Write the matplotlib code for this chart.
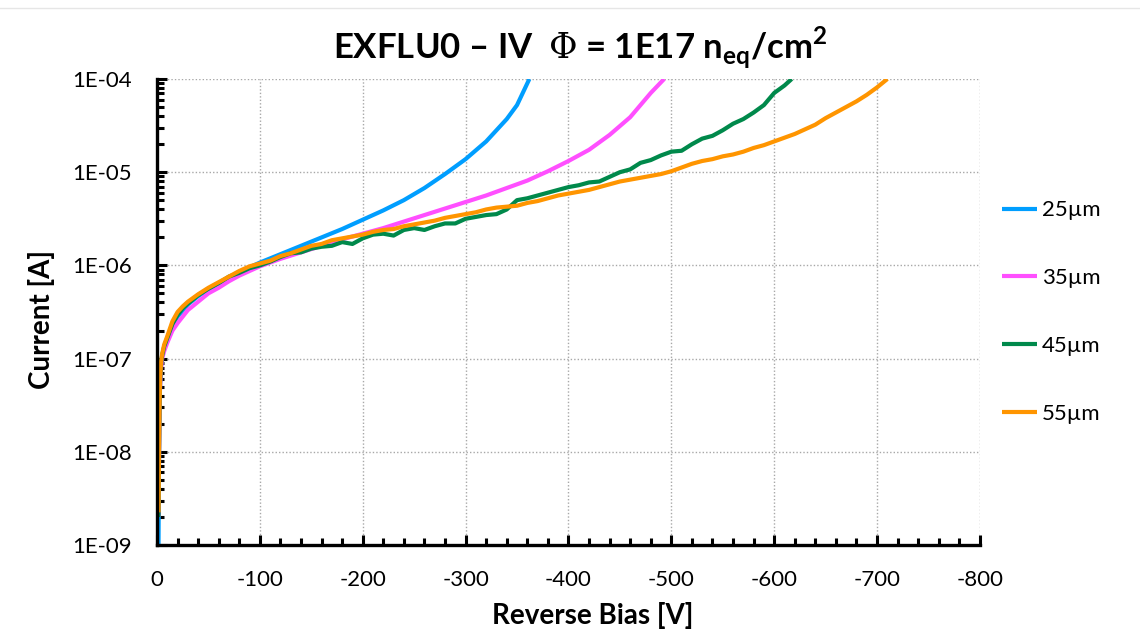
import numpy as np
import matplotlib
matplotlib.use('Agg')
import matplotlib.pyplot as plt
from matplotlib.ticker import FixedLocator, FuncFormatter, LogLocator, NullFormatter
from matplotlib.lines import Line2D

plt.rcParams['font.family'] = ['Lato', 'DejaVu Sans']
plt.rcParams['axes.unicode_minus'] = False
plt.rcParams['mathtext.fontset'] = 'custom'
plt.rcParams['mathtext.rm'] = 'DejaVu Serif'
plt.rcParams['mathtext.bf'] = 'Lato:bold'

# reverse bias [V] and log10(current [A]) for each sensor thickness
v_25 = [-1.5, -2, -2.5, -3, -4, -5, -7, -10, -15, -20, -30, -40, -50, -60, -70, -80, -90,
        -100, -120, -140, -160, -180, -200, -220, -240, -260, -280, -300, -320, -340,
        -350, -362]
logi_25 = [-9.0, -8.0, -7.5, -7.27, -7.07, -6.97, -6.88, -6.79, -6.65, -6.55, -6.42,
           -6.33, -6.26, -6.19, -6.13, -6.07, -6.02, -5.97, -5.88, -5.79, -5.70, -5.61,
           -5.51, -5.41, -5.30, -5.17, -5.02, -4.86, -4.67, -4.43, -4.28, -4.0]

v_35 = [-1.5, -2, -2.5, -3, -4, -5, -7, -10, -15, -20, -30, -40, -50, -60, -70, -80, -90,
        -100, -120, -140, -160, -180, -200, -220, -240, -260, -280, -300, -320, -340,
        -360, -380, -400, -420, -440, -460, -480, -493]
logi_35 = [-8.7, -8.05, -7.55, -7.3, -7.1, -7.0, -6.92, -6.83, -6.70, -6.62, -6.48,
           -6.39, -6.30, -6.24, -6.17, -6.11, -6.06, -6.01, -5.93, -5.86, -5.79, -5.72,
           -5.66, -5.60, -5.53, -5.46, -5.39, -5.32, -5.25, -5.17, -5.09, -4.99, -4.88,
           -4.76, -4.60, -4.41, -4.15, -4.0]

v_45 = [-1.5, -2, -2.5, -3, -4, -5, -7, -10, -15, -20, -25, -30, -40, -50, -60, -70, -80,
        -90, -100, -110, -120, -130, -140, -150, -160, -170, -180, -190, -200, -210,
        -220, -230, -240, -250, -260, -270, -280, -290, -300, -310, -320, -330, -340,
        -350, -360, -370, -380, -390, -400, -410, -420, -430, -440, -450, -460, -470,
        -480, -490, -500, -510, -520, -530, -540, -550, -560, -570, -580, -590, -600,
        -610, -617]
logi_45 = [-8.7, -8.0, -7.5, -7.25, -7.05, -6.97, -6.87, -6.78, -6.63, -6.53, -6.46,
           -6.41, -6.32, -6.25, -6.19, -6.12, -6.08, -6.03, -6.00, -5.96, -5.91, -5.87,
           -5.86, -5.82, -5.80, -5.79, -5.75, -5.77, -5.71, -5.67, -5.66, -5.68, -5.62,
           -5.60, -5.62, -5.58, -5.55, -5.55, -5.50, -5.48, -5.46, -5.45, -5.40, -5.30,
           -5.28, -5.25, -5.22, -5.19, -5.16, -5.14, -5.11, -5.10, -5.05, -5.00, -4.97,
           -4.90, -4.87, -4.82, -4.78, -4.77, -4.70, -4.64, -4.61, -4.55, -4.48, -4.43,
           -4.36, -4.28, -4.15, -4.07, -4.0]

v_55 = [-1.5, -2, -2.5, -3, -4, -5, -7, -10, -15, -20, -25, -30, -40, -50, -60, -70, -80,
        -90, -100, -110, -120, -130, -140, -150, -160, -170, -180, -190, -200, -210,
        -220, -230, -240, -250, -260, -270, -280, -290, -300, -310, -320, -330, -340,
        -350, -360, -370, -380, -390, -400, -410, -420, -430, -440, -450, -460, -470,
        -480, -490, -500, -510, -520, -530, -540, -550, -560, -570, -580, -590, -600,
        -610, -620, -630, -640, -650, -660, -670, -680, -690, -700, -710]
logi_55 = [-8.65, -8.0, -7.5, -7.22, -7.03, -6.95, -6.85, -6.76, -6.6, -6.5, -6.44,
           -6.39, -6.31, -6.24, -6.18, -6.12, -6.06, -6.01, -5.98, -5.95, -5.90, -5.87,
           -5.83, -5.79, -5.77, -5.73, -5.71, -5.69, -5.67, -5.64, -5.62, -5.61, -5.58,
           -5.56, -5.54, -5.52, -5.49, -5.47, -5.45, -5.43, -5.40, -5.38, -5.37, -5.36,
           -5.33, -5.31, -5.28, -5.25, -5.23, -5.21, -5.19, -5.16, -5.13, -5.10, -5.08,
           -5.06, -5.04, -5.02, -4.99, -4.95, -4.91, -4.88, -4.86, -4.83, -4.81, -4.78,
           -4.74, -4.71, -4.67, -4.63, -4.59, -4.54, -4.49, -4.42, -4.36, -4.30, -4.24,
           -4.17, -4.09, -4.0]

labels = ['25µm', '35µm', '45µm', '55µm']
colors = ['#009EFF', '#FF4FFF', '#00894B', '#FF9500']
series = [(v_25, logi_25), (v_35, logi_35), (v_45, logi_45), (v_55, logi_55)]

fig = plt.figure(figsize=(11.4, 6.39), dpi=100)
ax = fig.add_axes([0.1377, 0.1471, 0.7219, 0.7293])

for (v, logi), lab, c in zip(series, labels, colors):
    ax.plot(v, 10.0 ** np.array(logi), color=c, lw=3, label=lab,
            solid_capstyle='butt', solid_joinstyle='round')

ax.set_yscale('log')
ax.set_xlim(0, -800)
ax.set_ylim(1e-9, 1e-4)

ax.xaxis.set_major_locator(FixedLocator(np.arange(0, -801, -100)))
ax.xaxis.set_minor_locator(FixedLocator(np.arange(0, -801, -20)))
ax.yaxis.set_major_locator(LogLocator(base=10, numticks=10))
ax.yaxis.set_minor_locator(LogLocator(base=10, subs=np.arange(2, 10), numticks=20))
ax.yaxis.set_minor_formatter(NullFormatter())
ax.yaxis.set_major_formatter(FuncFormatter(lambda y, p: '1E-%02d' % int(round(-np.log10(y)))))

ax.grid(True, which='major', color='#a8a8a8', linestyle=(0, (1, 1.5)), lw=1.0)
ax.set_axisbelow(True)

for s in ['top', 'right']:
    ax.spines[s].set_visible(False)
for s in ['left', 'bottom']:
    ax.spines[s].set_linewidth(2.4)
    ax.spines[s].set_zorder(5)

ax.tick_params(which='major', direction='in', length=7, width=2.2, labelsize=16, pad=18)
ax.tick_params(which='minor', direction='in', length=5, width=2.2)
ax.tick_params(axis='y', which='both', right=False)
ax.tick_params(axis='x', which='both', top=False)

ax.set_xlabel('Reverse Bias [V]', fontsize=20, fontweight='bold')
ax.set_ylabel('Current [A]', fontsize=20, fontweight='bold')
ax.xaxis.set_label_coords(0.529, -0.122)
ax.yaxis.set_label_coords(-0.124, 0.483)

fig.text(0.5088, 0.909,
         r'EXFLU0 – IV  $\mathrm{\Phi}$ = 1E17 n$_{\mathbf{eq}}$/cm$^{\mathbf{2}}$',
         fontsize=25, fontweight='bold', ha='center', va='baseline')

ax.legend(loc='center left', bbox_to_anchor=(1.002, 0.5), frameon=False, fontsize=16,
          handlelength=1.6, handletextpad=0.2, labelspacing=2.15)

# thin border line along the top of the canvas
fig.add_artist(Line2D([0, 1], [0.987, 0.987], transform=fig.transFigure,
                      color='#e6e6e6', lw=1))

fig.savefig('out.png', dpi=100)
